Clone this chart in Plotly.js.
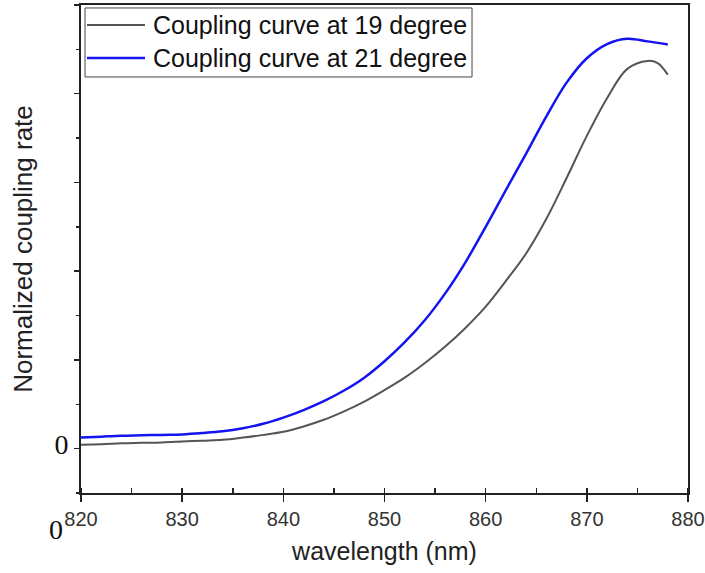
<!DOCTYPE html>
<html>
<head>
<meta charset="utf-8">
<script src="https://cdn.plot.ly/plotly-3.0.1.min.js"></script>
<style>html,body{margin:0;padding:0;background:#fff;}</style>
</head>
<body>
<div id="chart" style="width:705px;height:573px;"></div>
<script>
// wavelength (nm)
var wl19 = [820,822,824,826,828,830,832,834,836,838,840,842,844,846,848,850,852,854,856,858,860,862,864,866,868,870,872,874,876,877,878];
var rate19 = [0.009,0.010,0.012,0.013,0.014,0.016,0.018,0.020,0.025,0.031,0.038,0.050,0.065,0.084,0.106,0.132,0.160,0.193,0.230,0.272,0.320,0.378,0.440,0.518,0.610,0.705,0.790,0.856,0.874,0.869,0.843];
var wl21 = [820,822,824,826,828,830,832,834,836,838,840,842,844,846,848,850,852,854,856,858,860,862,864,866,868,870,872,874,876,878];
var rate21 = [0.025,0.027,0.029,0.030,0.031,0.032,0.035,0.039,0.046,0.056,0.070,0.087,0.107,0.131,0.160,0.197,0.240,0.290,0.350,0.420,0.500,0.583,0.665,0.749,0.825,0.880,0.912,0.924,0.918,0.911];
var names = ['Coupling curve at 19 degree','Coupling curve at 21 degree'];
var colors = ['#555555','#1414f0'];
var yTickVals = [0,0.2,0.4,0.6,0.8,1.0];
var yTickText = ['0','','','','',''];

var traces = [
  {x: wl19, y: rate19, name: names[0], mode: 'lines', line: {color: colors[0], width: 2, shape: 'spline'}},
  {x: wl21, y: rate21, name: names[1], mode: 'lines', line: {color: colors[1], width: 2.5, shape: 'spline'}}
];

var sansFont = 'Arial, Liberation Sans, sans-serif';
var serifFont = 'Liberation Serif, Times New Roman, serif';

// legend drawn as shapes + annotations (paper coords of plot area)
var legY = [0.959, 0.8914];
var shapes = [
  {type: 'rect', xref: 'paper', yref: 'paper', x0: 0.0066, x1: 0.6442, y0: 0.8525, y1: 0.9939,
   line: {color: '#444', width: 1}, fillcolor: '#fff', layer: 'above'}
];
var annotations = [];
for (var i = 0; i < names.length; i++) {
  shapes.push({type: 'line', xref: 'paper', yref: 'paper', x0: 0.0099, x1: 0.1054, y0: legY[i], y1: legY[i],
               line: {color: colors[i], width: i === 0 ? 2 : 2.5}, layer: 'above'});
  annotations.push({text: names[i], xref: 'paper', yref: 'paper', x: 0.1153, y: legY[i],
                    xanchor: 'left', yanchor: 'middle', showarrow: false,
                    font: {family: sansFont, size: 25, color: '#111'}});
}
annotations.push({text: '0', xref: 'paper', yref: 'paper', x: -0.041, y: -0.0738, xanchor: 'center', yanchor: 'middle',
                  showarrow: false, borderpad: 0, font: {family: serifFont, size: 28, color: '#111'}});

var layout = {
  width: 705, height: 573,
  margin: {l: 81, r: 17, t: 5, b: 80},
  paper_bgcolor: '#fff', plot_bgcolor: '#fff',
  showlegend: false,
  xaxis: {
    range: [820, 880], dtick: 10, tick0: 820,
    showline: true, mirror: true, linecolor: '#222', linewidth: 2,
    ticks: 'outside', ticklen: 7, tickcolor: '#222', tickwidth: 1.5,
    minor: {dtick: 5, ticks: 'inside', ticklen: 5, tickcolor: '#222', tickwidth: 1.5},
    showgrid: false, zeroline: false,
    tickfont: {family: sansFont, size: 20, color: '#333'},
    title: {text: 'wavelength (nm)', font: {family: sansFont, size: 25, color: '#222'}, standoff: 13}
  },
  yaxis: {
    range: [-0.1, 1.0],
    tickmode: 'array', tickvals: yTickVals, ticktext: yTickText,
    showline: true, mirror: true, linecolor: '#222', linewidth: 2,
    ticks: 'outside', ticklen: 5, tickcolor: '#222', tickwidth: 1.5,
    minor: {dtick: 0.1, tick0: 0, ticks: 'outside', ticklen: 3, tickcolor: '#222', tickwidth: 1.5},
    showgrid: false, zeroline: false,
    ticklabelshift: -4,
    tickfont: {family: serifFont, size: 28, color: '#111'},
    title: {text: 'Normalized coupling rate', font: {family: sansFont, size: 26, color: '#222'}, standoff: 14}
  },
  shapes: shapes,
  annotations: annotations
};

Plotly.newPlot('chart', traces, layout, {displayModeBar: false, staticPlot: true});
</script>
</body>
</html>
